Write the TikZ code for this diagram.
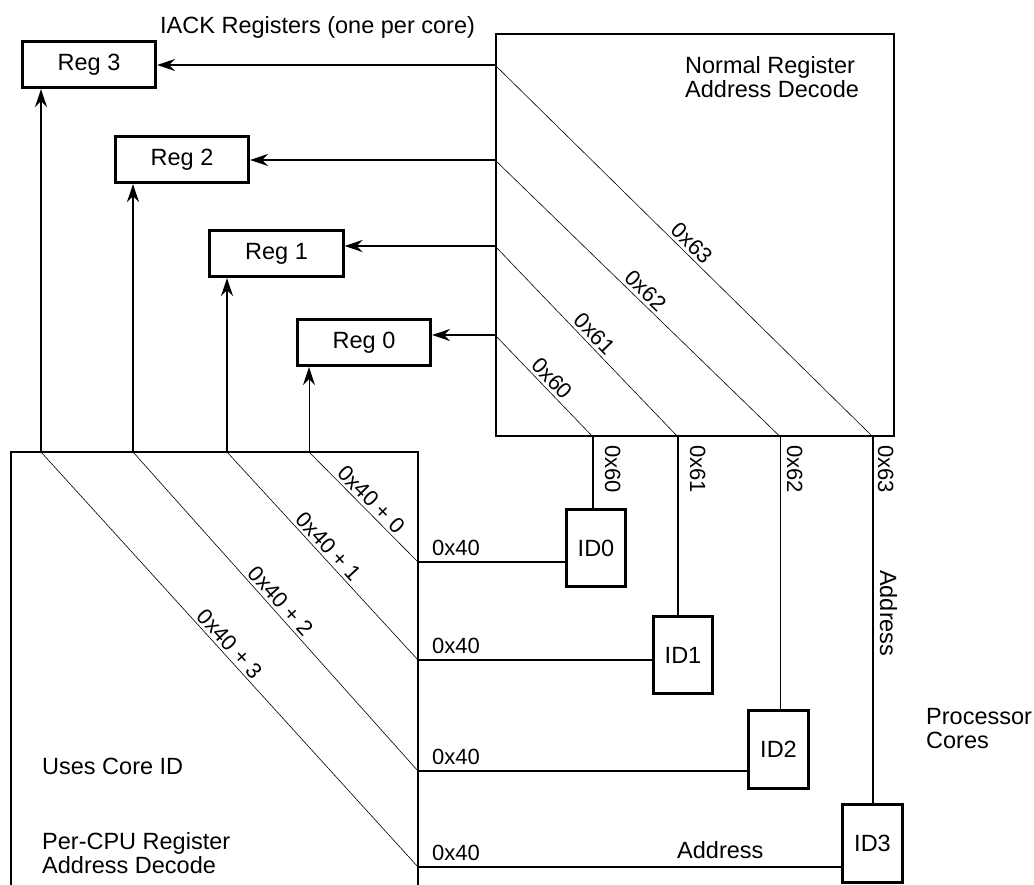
\documentclass[tikz,border=0pt]{standalone}
\usepackage{fontspec}
\setmainfont{Liberation Sans}
\usetikzlibrary{arrows.meta}
\begin{document}
\begin{tikzpicture}[x=1pt,y=-1pt,
  box/.style={draw, line width=2.6pt, inner sep=0pt, font=\fontsize{23.5}{24}\selectfont},
  regbox/.style={box, minimum width=133.5pt, minimum height=46.5pt},
  idbox/.style={box, minimum width=59.5pt, minimum height=77.5pt},
  conn/.style={line width=1.5pt},
  diag/.style={line width=0.6pt},
  arr/.style={conn, -{Stealth[length=18pt,width=12pt,inset=6pt]}},
  txt/.style={inner sep=0pt, font=\fontsize{23.5}{24}\selectfont},
  hex/.style={inner sep=0pt, font=\fontsize{22}{24}\selectfont},
  dlab/.style={hex, sloped, above=3pt}
]
\useasboundingbox (0,0) rectangle (1034,885);

% register boxes
\node[regbox] (reg3) at (89,64.5) {Reg 3};
\node[regbox] (reg2) at (182,159.5) {Reg 2};
\node[regbox] (reg1) at (276.5,253.5) {Reg 1};
\node[regbox] (reg0) at (364,342.5) {Reg 0};

% normal register decode box
\node[draw, line width=2pt, minimum width=398pt, minimum height=401.5pt, inner sep=0pt] (nrad) at (695,235.25) {};

% processor core ID boxes
\node[idbox] (id0) at (596,548) {ID0};
\node[idbox] (id1) at (683,655) {ID1};
\node[idbox] (id2) at (778.5,749.5) {ID2};
\node[idbox] (id3) at (872.5,843.5) {ID3};

% per-CPU decode box (open at bottom)
\draw[line width=2pt] (11,892) -- (11,452) -- (418,452) -- (418,892);

% coordinates
\coordinate (t3) at (495,65);
\coordinate (t2) at (495,160);
\coordinate (t1) at (495,246);
\coordinate (t0) at (495,335);
\coordinate (b0) at (593,437);
\coordinate (b1) at (678,437);
\coordinate (b2) at (780.5,437);
\coordinate (b3) at (873,437);
\coordinate (q3) at (41,452);
\coordinate (q2) at (133,452);
\coordinate (q1) at (227,452);
\coordinate (q0) at (309,452);
\coordinate (p0) at (418,562);
\coordinate (p1) at (418,660);
\coordinate (p2) at (418,771);
\coordinate (p3) at (418,867);

% diagonals in the normal decode box
\draw[diag] (t3) -- node[dlab, pos=0.5] (d63) {0x63} (b3);
\draw[diag] (t2) -- node[dlab, pos=0.5] (d62) {0x62} (b2);
\draw[diag] (t1) -- node[dlab, pos=0.5] (d61) {0x61} (b1);
\draw[diag] (t0) -- node[dlab, pos=0.5] (d60) {0x60} (b0);

% diagonals in the per-CPU decode box
\draw[diag] (q0) -- node[dlab, pos=0.5] (e0) {0x40 + 0} (p0);
\draw[diag] (q1) -- node[dlab, pos=0.49] (e1) {0x40 + 1} (p1);
\draw[diag] (q2) -- node[dlab, pos=0.49] (e2) {0x40 + 2} (p2);
\draw[diag] (q3) -- node[dlab, pos=0.48] (e3) {0x40 + 3} (p3);

% arrows to registers
\draw[arr] (t3) -- (t3 -| reg3.east);
\draw[arr] (t2) -- (t2 -| reg2.east);
\draw[arr] (t1) -- (t1 -| reg1.east);
\draw[arr] (t0) -- (t0 -| reg0.east);
\draw[arr] (q3) -- (q3 |- reg3.south);
\draw[arr] (q2) -- (q2 |- reg2.south);
\draw[arr] (q1) -- (q1 |- reg1.south);
\draw[arr, line width=0.9pt] (q0) -- (q0 |- reg0.south);

% connectors to cores
\draw[conn] (b0) -- (b0 |- id0.north);
\draw[conn] (b1) -- (b1 |- id1.north);
\draw[conn] (b2) -- (b2 |- id2.north);
\draw[conn] (b3) -- (b3 |- id3.north);
\draw[conn] (p0) -- (p0 -| id0.west);
\draw[conn] (p1) -- (p1 -| id1.west);
\draw[conn] (p2) -- (p2 -| id2.west);
\draw[conn] (p3) -- (p3 -| id3.west);

% labels
\node[txt, anchor=base west] (iack) at (160,33.3) {IACK Registers (one per core)};
\node[txt, anchor=north west, align=left] (nrtxt) at (685,56) {Normal Register\\Address Decode};
\node[txt, anchor=base west] (uses) at (42,774) {Uses Core ID};
\node[txt, anchor=north west, align=left] (percpu) at (42,832) {Per-CPU Register\\Address Decode};
\node[txt, anchor=north west, align=left] (proc) at (926,708) {Processor\\Cores};

\node[hex, rotate=-90, anchor=base west] (l60) at (605,445) {0x60};
\node[hex, rotate=-90, anchor=base west] (l61) at (690,445) {0x61};
\node[hex, rotate=-90, anchor=base west] (l62) at (787,445) {0x62};
\node[hex, rotate=-90, anchor=base west] (l63) at (878,445) {0x63};
\node[txt, rotate=-90, anchor=base west] (addrv) at (880,570) {Address};
\node[txt, anchor=base west] (addrh) at (677,858) {Address};

\node[hex, anchor=base west] (h0) at (432,555) {0x40};
\node[hex, anchor=base west] (h1) at (432,653) {0x40};
\node[hex, anchor=base west] (h2) at (432,764) {0x40};
\node[hex, anchor=base west] (h3) at (432,860) {0x40};
\end{tikzpicture}
\end{document}
